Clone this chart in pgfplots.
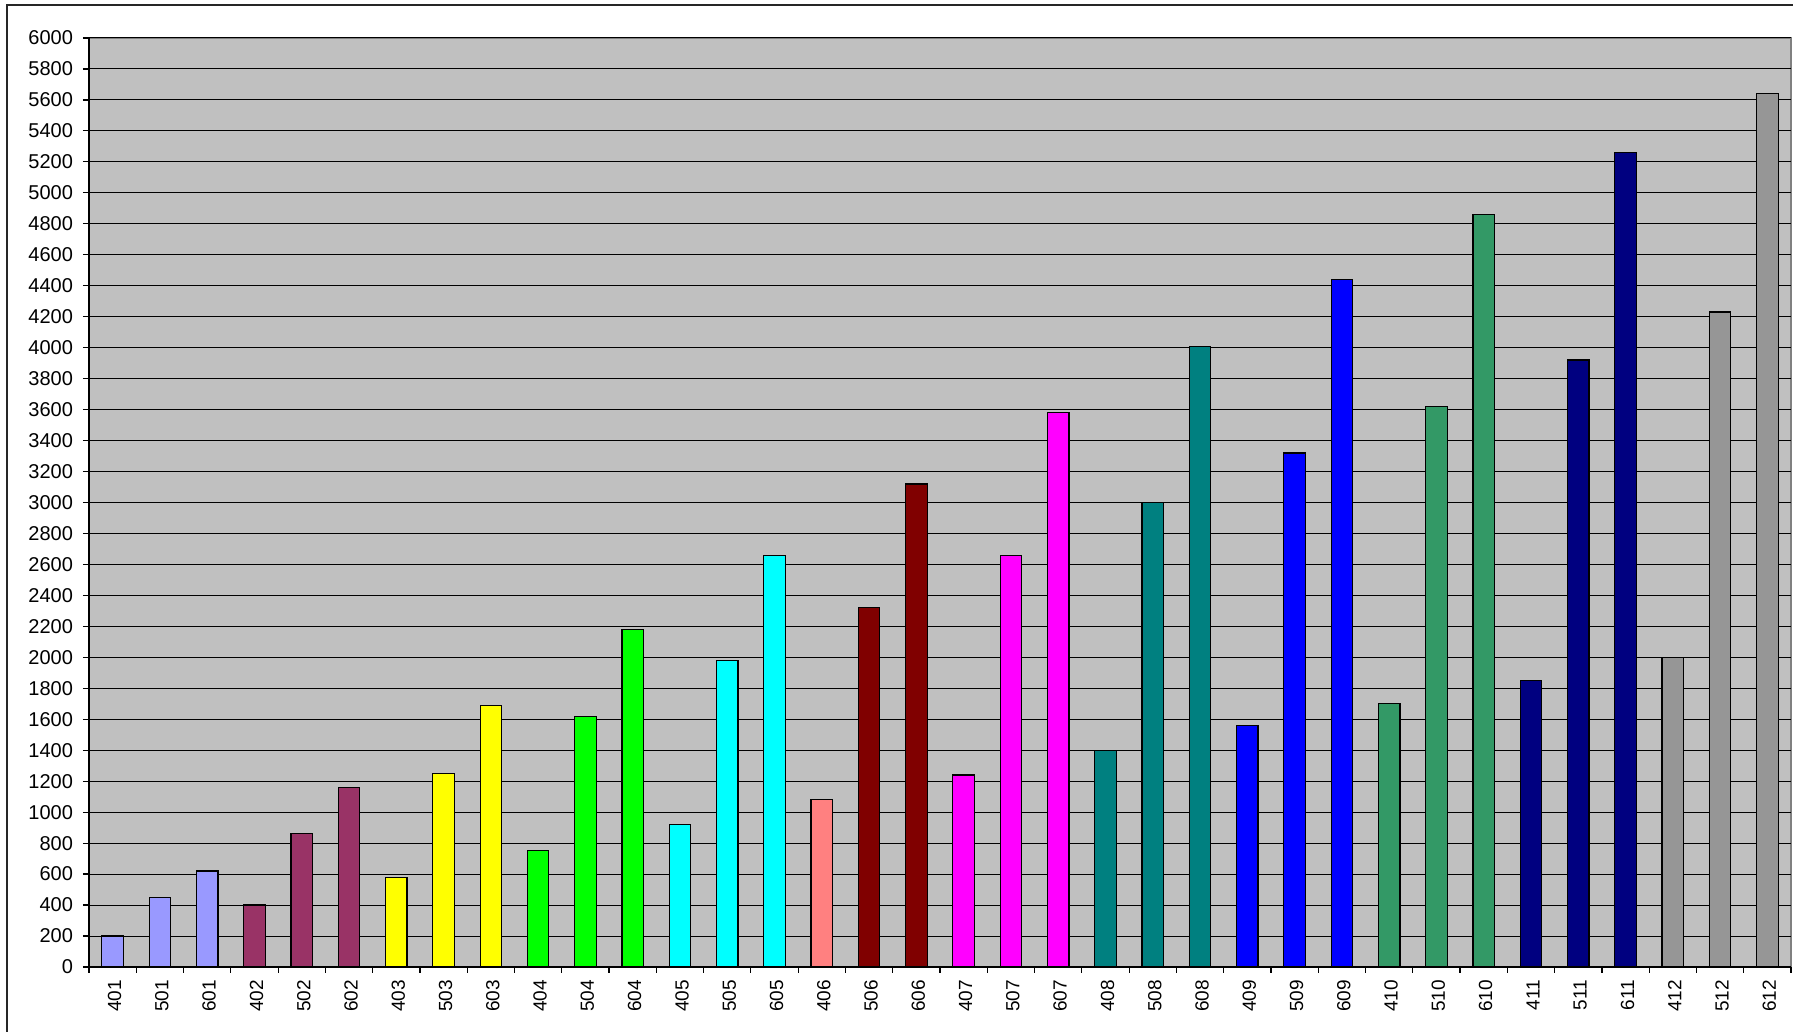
\documentclass[border=0pt]{standalone}
\usepackage{fontspec}
\setmainfont{Liberation Sans}
\usepackage{pgfplots}
\pgfplotsset{compat=1.18}
\definecolor{bgc}{HTML}{C0C0C0}
\definecolor{c1}{HTML}{9999FF}
\definecolor{c2}{HTML}{993366}
\definecolor{c3}{HTML}{FFFF00}
\definecolor{c4}{HTML}{00FF00}
\definecolor{c5}{HTML}{00FFFF}
\definecolor{c6a}{HTML}{FF8080}
\definecolor{c6}{HTML}{800000}
\definecolor{c7}{HTML}{FF00FF}
\definecolor{c8}{HTML}{008080}
\definecolor{c9}{HTML}{0000FF}
\definecolor{c10}{HTML}{339966}
\definecolor{c11}{HTML}{000080}
\definecolor{c12}{HTML}{969696}
\begin{document}
\begin{tikzpicture}
\useasboundingbox (0,0) rectangle (896.5pt,516pt);
\fill[white] (0,0) rectangle (896.5pt,516pt);
\begin{axis}[
  at={(44.5pt,32.5pt)}, anchor=south west,
  scale only axis, width=851pt, height=464.5pt,
  xmin=-0.5, xmax=35.5, ymin=0, ymax=6000,
  axis lines=left, axis line style={-, black, line width=0.6pt},
  axis background/.style={fill=bgc, draw=gray, line width=0.6pt},
  ytick={0,200,...,6000},
  ymajorgrids, grid style={black, line width=0.5pt},
  xtick={0,...,35},
  xticklabels={401,501,601,402,502,602,403,503,603,404,504,604,405,505,605,406,506,606,407,507,607,408,508,608,409,509,609,410,510,610,411,511,611,412,512,612},
  minor xtick={-0.5,0.5,...,35.5},
  tick align=outside,
  major tick length=3pt, minor tick length=3pt,
  x tick style={draw=none},
  minor x tick style={draw=black, line width=0.6pt},
  y tick style={black, line width=0.6pt},
  yticklabel style={font=\fontsize{10}{11}\selectfont, xshift=-1.5pt},
  xticklabel style={font=\fontsize{9.5}{11}\selectfont, rotate=90, anchor=east, yshift=-1pt},
  /pgf/number format/.cd, 1000 sep={}, assume math mode=true,
]
\pgfplotsset{every axis plot/.append style={ybar, bar width=10.75pt, bar shift=0pt, draw=black, line width=0.6pt}}
\addplot[fill=c1] coordinates {(0,200) (1,450) (2,620)};
\addplot[fill=c2] coordinates {(3,400) (4,860) (5,1160)};
\addplot[fill=c3] coordinates {(6,580) (7,1250) (8,1690)};
\addplot[fill=c4] coordinates {(9,750) (10,1620) (11,2180)};
\addplot[fill=c5] coordinates {(12,920) (13,1980) (14,2660)};
\addplot[fill=c6a] coordinates {(15,1080)};
\addplot[fill=c6] coordinates {(16,2320) (17,3120)};
\addplot[fill=c7] coordinates {(18,1240) (19,2660) (20,3580)};
\addplot[fill=c8] coordinates {(21,1400) (22,3000) (23,4010)};
\addplot[fill=c9] coordinates {(24,1560) (25,3320) (26,4440)};
\addplot[fill=c10] coordinates {(27,1700) (28,3620) (29,4860)};
\addplot[fill=c11] coordinates {(30,1850) (31,3920) (32,5260)};
\addplot[fill=c12] coordinates {(33,2000) (34,4230) (35,5640)};
\end{axis}
\draw[line width=0.75pt, black!85] (3.5pt,-5pt) -- (3.5pt,513.5pt) -- (905pt,513.5pt);
\end{tikzpicture}
\end{document}
